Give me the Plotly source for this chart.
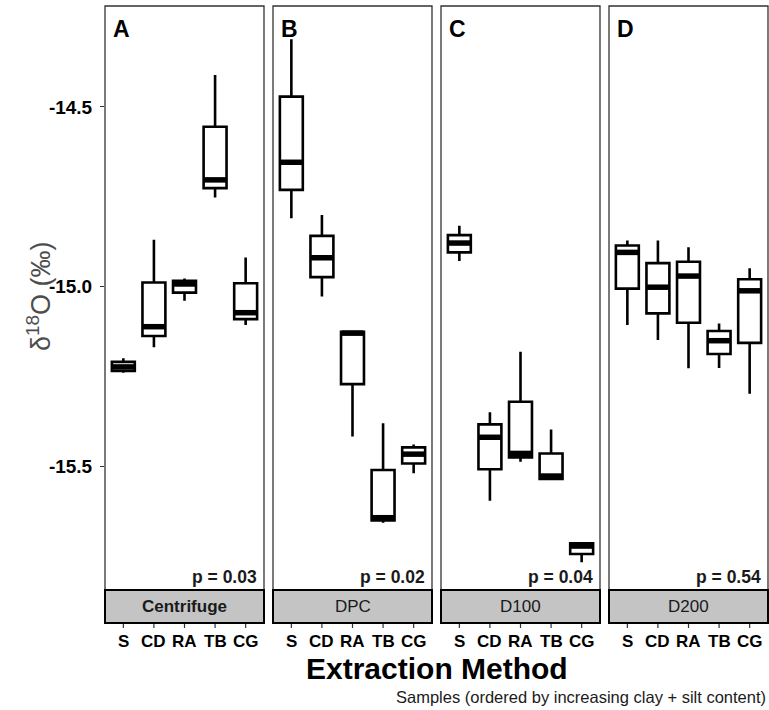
import plotly.graph_objects as go

samples = ["S", "CD", "RA", "TB", "CG"]
methods = ["Centrifuge", "DPC", "D100", "D200"]
panel_letters = ["A", "B", "C", "D"]
p_labels = ["p = 0.03", "p = 0.02", "p = 0.04", "p = 0.54"]

# box statistics per method, ordered S, CD, RA, TB, CG
centrifuge_low = [-15.240, -15.169, -15.040, -14.752, -15.107]
centrifuge_q1 = [-15.235, -15.138, -15.017, -14.726, -15.091]
centrifuge_med = [-15.224, -15.112, -14.993, -14.703, -15.073]
centrifuge_q3 = [-15.210, -14.989, -14.984, -14.555, -14.991]
centrifuge_high = [-15.200, -14.870, -14.978, -14.411, -14.919]

dpc_low = [-14.810, -15.028, -15.418, -15.658, -15.520]
dpc_q1 = [-14.731, -14.974, -15.272, -15.652, -15.493]
dpc_med = [-14.654, -14.920, -15.130, -15.644, -15.467]
dpc_q3 = [-14.471, -14.859, -15.126, -15.511, -15.448]
dpc_high = [-14.311, -14.801, -15.126, -15.381, -15.440]

d100_low = [-14.929, -15.597, -15.488, -15.536, -15.768]
d100_q1 = [-14.905, -15.509, -15.476, -15.536, -15.745]
d100_med = [-14.879, -15.420, -15.465, -15.528, -15.723]
d100_q3 = [-14.857, -15.384, -15.321, -15.465, -15.715]
d100_high = [-14.831, -15.350, -15.182, -15.398, -15.715]

d200_low = [-15.107, -15.149, -15.228, -15.227, -15.299]
d200_q1 = [-15.006, -15.075, -15.101, -15.188, -15.157]
d200_med = [-14.905, -15.002, -14.971, -15.151, -15.012]
d200_q3 = [-14.886, -14.935, -14.931, -15.124, -14.980]
d200_high = [-14.872, -14.872, -14.891, -15.103, -14.949]

y_ticks = [-15.5, -15.0, -14.5]

stats = [
    (centrifuge_low, centrifuge_q1, centrifuge_med, centrifuge_q3, centrifuge_high),
    (dpc_low, dpc_q1, dpc_med, dpc_q3, dpc_high),
    (d100_low, d100_q1, d100_med, d100_q3, d100_high),
    (d200_low, d200_q1, d200_med, d200_q3, d200_high),
]

W, H = 769, 710
ML, MR, MT, MB = 105, 1, 6, 120
plot_w = W - ML - MR
plot_h = H - MT - MB
bottom_px = H - MB
panel_w = 159
gap = 9
strip_h = 33 / plot_h

FONT = "Liberation Sans, Arial, sans-serif"
box_w = 0.75


def py(px):
    """pixel row -> paper y"""
    return (bottom_px - px) / plot_h


fig = go.Figure()
layout_axes = {}
shapes = []
annotations = []
xpos = list(range(len(samples)))

for k, (method, st) in enumerate(zip(methods, stats)):
    low, q1, med, q3, high = st
    xa = "x" if k == 0 else f"x{k+1}"
    ya = "y" if k == 0 else f"y{k+1}"
    fig.add_trace(go.Box(
        x=xpos, q1=q1, median=med, q3=q3, lowerfence=low, upperfence=high,
        width=box_w, whiskerwidth=0, boxpoints=False,
        fillcolor="white", line=dict(color="black", width=2.6),
        xaxis=xa, yaxis=ya, showlegend=False, hoverinfo="skip",
    ))
    mx, my = [], []
    for i, m in zip(xpos, med):
        mx += [i - box_w / 2 + 0.02, i + box_w / 2 - 0.02, None]
        my += [m, m, None]
    fig.add_trace(go.Scatter(
        x=mx, y=my, mode="lines", line=dict(color="black", width=5.5),
        xaxis=xa, yaxis=ya, showlegend=False, hoverinfo="skip",
    ))
    x0 = k * (panel_w + gap) / plot_w
    x1 = (k * (panel_w + gap) + panel_w) / plot_w
    xname = "xaxis" if k == 0 else f"xaxis{k+1}"
    yname = "yaxis" if k == 0 else f"yaxis{k+1}"
    layout_axes[xname] = dict(
        domain=[x0, x1], range=[-0.6, 4.6], showgrid=False, zeroline=False,
        showticklabels=False, ticks="", anchor=ya, fixedrange=True,
    )
    yax = dict(
        domain=[0, 1], range=[-15.8454, -14.2187], showgrid=False, zeroline=False,
        anchor=xa, fixedrange=True,
    )
    if k == 0:
        yax.update(
            tickvals=y_ticks, ticktext=[f"{v:.1f}" for v in y_ticks],
            ticks="outside", ticklen=4, tickwidth=1.2, tickcolor="#333333",
            ticklabelstandoff=4,
            tickfont=dict(family=FONT, size=19, color="black", weight="bold"),
        )
    else:
        yax.update(showticklabels=False, ticks="", matches="y")
    layout_axes[yname] = yax

    xd = xa + " domain"
    yd = ya + " domain"
    # panel border
    shapes.append(dict(type="rect", xref=xd, yref=yd, x0=0, x1=1, y0=0, y1=1,
                       line=dict(color="#333333", width=1.3), fillcolor="rgba(0,0,0,0)", layer="above"))
    # strip
    shapes.append(dict(type="rect", xref=xd, yref="paper", x0=0, x1=1, y0=-strip_h, y1=0,
                       line=dict(color="black", width=2), fillcolor="#C4C4C4", layer="above"))
    annotations.append(dict(
        text=f"<b>{method}</b>" if k == 0 else method, xref=xd, yref="paper", x=0.5, y=-strip_h / 2,
        showarrow=False, xanchor="center", yanchor="middle",
        font=dict(family=FONT, size=17, color="#1A1A1A")))
    # tick marks and labels below strip
    for i, s in zip(xpos, samples):
        shapes.append(dict(type="line", xref=xa, yref="paper", x0=i, x1=i,
                           y0=-strip_h - 1 / plot_h, y1=-strip_h - 5 / plot_h,
                           line=dict(color="#333333", width=1.2)))
        annotations.append(dict(
            text=f"<b>{s}</b>", xref=xa, yref="paper", x=i, y=py(641),
            showarrow=False, xanchor="center", yanchor="middle",
            font=dict(family=FONT, size=17, color="black")))
    # panel letter
    annotations.append(dict(
        text=f"<b>{panel_letters[k]}</b>", xref=xd, yref=yd, x=0.035, y=py(14),
        showarrow=False, xanchor="left", yanchor="top",
        font=dict(family=FONT, size=23, color="black")))
    # p-value
    annotations.append(dict(
        text=f"<b>{p_labels[k]}</b>", xref=xd, yref=yd, x=0.968, y=py(577),
        showarrow=False, xanchor="right", yanchor="middle",
        font=dict(family=FONT, size=17.5, color="#1A1A1A")))

# axis titles and caption
annotations.append(dict(
    text="<b>Extraction Method</b>", xref="paper", yref="paper",
    x=(437 - ML) / plot_w, y=py(668),
    showarrow=False, xanchor="center", yanchor="middle",
    font=dict(family=FONT, size=30, color="black")))
annotations.append(dict(
    text="Samples (ordered by increasing clay + silt content)", xref="paper", yref="paper",
    x=1, y=py(697),
    showarrow=False, xanchor="right", yanchor="middle",
    font=dict(family=FONT, size=16.5, color="#1A1A1A")))
annotations.append(dict(
    text="δ<sup>18</sup>O (‰)", xref="paper", yref="paper",
    x=(39 - ML) / plot_w, y=py(296), textangle=-90,
    showarrow=False, xanchor="center", yanchor="middle",
    font=dict(family=FONT, size=27, color="#4D4D4D")))

fig.update_layout(
    width=W, height=H, margin=dict(l=ML, r=MR, t=MT, b=MB),
    paper_bgcolor="white", plot_bgcolor="white",
    shapes=shapes, annotations=annotations, showlegend=False,
    **layout_axes,
)

fig.write_html("out.html")
